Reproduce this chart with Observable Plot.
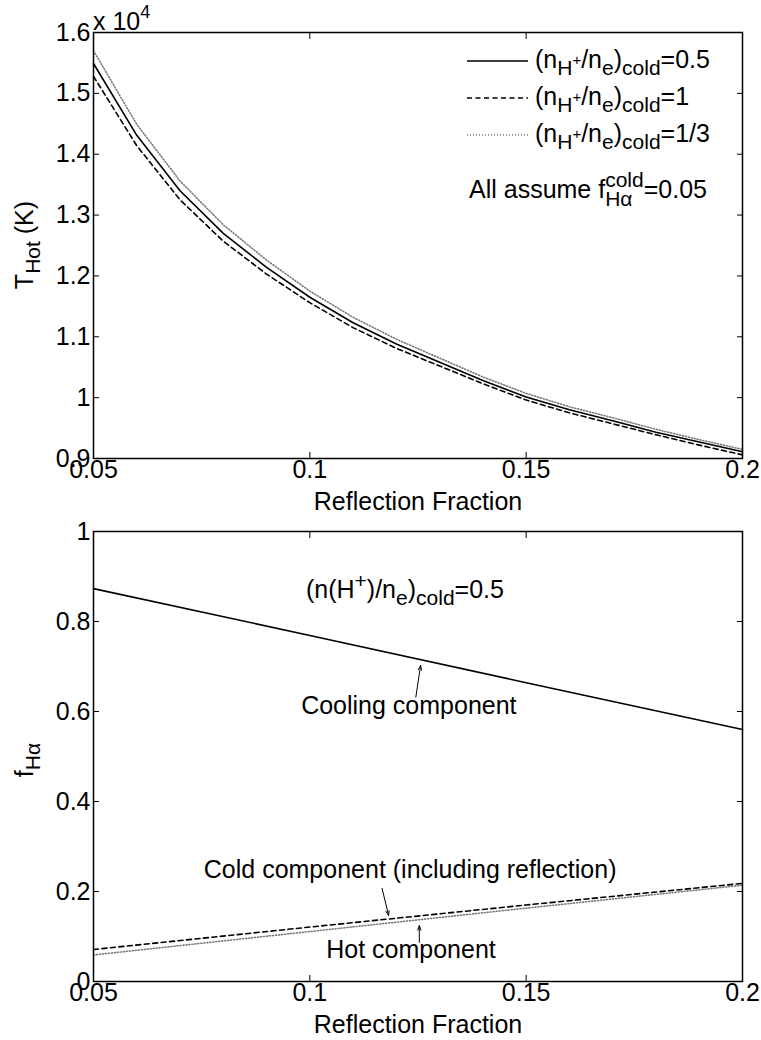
<!DOCTYPE html>
<html><head><meta charset="utf-8">
<script src="https://cdn.jsdelivr.net/npm/d3@7"></script>
<script src="https://cdn.jsdelivr.net/npm/@observablehq/plot@0.6"></script>
<style>
body{margin:0;background:#fff;}
#chart{width:761px;}
svg{display:block;}
</style>
</head><body><div id="chart"></div>
<script>
// ---------- data ----------
const reflection = [0.05,0.06,0.07,0.08,0.09,0.10,0.11,0.12,0.13,0.14,0.15,0.16,0.17,0.18,0.19,0.20];
// T_hot in units of 10^4 K
const tHalf  = [1.549,1.431,1.340,1.270,1.214,1.165,1.123,1.088,1.058,1.028,1.001,0.980,0.962,0.943,0.927,0.911];
const tOne   = [1.528,1.414,1.325,1.257,1.203,1.156,1.115,1.081,1.052,1.023,0.996,0.975,0.957,0.939,0.922,0.906];
const tThird = [1.570,1.449,1.356,1.284,1.226,1.175,1.132,1.096,1.065,1.034,1.007,0.985,0.967,0.948,0.931,0.915];
const legendLabels = ["=0.5","=1","=1/3"];

const reflectionB = [0.05,0.10,0.15,0.20];
const fCooling = [0.873,0.769,0.664,0.560];
const fCold    = [0.071,0.121,0.170,0.218];
const fHot     = [0.059,0.111,0.163,0.214];

const xTicks = [0.05,0.1,0.15,0.2];
const yTicksTop = [0.9,1,1.1,1.2,1.3,1.4,1.5,1.6];
const yTicksBottom = [0,0.2,0.4,0.6,0.8,1];

const FONT = "'Liberation Sans', Arial, Helvetica, sans-serif";
const FS = 25;

function axes(xt, yt) {
  return [
    Plot.frame({stroke: "black", strokeWidth: 1.5}),
    Plot.axisX({anchor: "bottom", ticks: xt, tickSize: -6, tickPadding: 8, tickFormat: String, fontSize: FS, label: null}),
    Plot.axisX({anchor: "top", ticks: xt, tickSize: -6, tickFormat: () => "", label: null}),
    Plot.axisY({anchor: "left", ticks: yt, tickSize: -6, tickPadding: 9, tickFormat: String, fontSize: FS, label: null}),
    Plot.axisY({anchor: "right", ticks: yt, tickSize: -6, tickFormat: () => "", label: null}),
    Plot.text(["Reflection Fraction"], {frameAnchor: "bottom", dy: 43, text: d => d, fontSize: FS, lineAnchor: "middle"})
  ];
}

const idx = reflection.map((_, i) => i);
const idxB = reflectionB.map((_, i) => i);

const topPlot = Plot.plot({
  width: 761, height: 514,
  marginTop: 32, marginBottom: 56, marginLeft: 93, marginRight: 19,
  style: {fontFamily: FONT, fontSize: FS + "px", color: "black", background: "white"},
  x: {domain: [0.05, 0.2]},
  y: {domain: [0.9, 1.6]},
  marks: [
    Plot.line(idx, {x: i => reflection[i], y: i => tThird[i], stroke: "#777", strokeWidth: 1.6, strokeDasharray: "1,2"}),
    Plot.line(idx, {x: i => reflection[i], y: i => tOne[i], stroke: "black", strokeWidth: 1.6, strokeDasharray: "5,3.5"}),
    Plot.line(idx, {x: i => reflection[i], y: i => tHalf[i], stroke: "black", strokeWidth: 1.6}),
    ...axes(xTicks, yTicksTop)
  ]
});

const botPlot = Plot.plot({
  width: 761, height: 526,
  marginTop: 17, marginBottom: 59, marginLeft: 93, marginRight: 19,
  style: {fontFamily: FONT, fontSize: FS + "px", color: "black", background: "white"},
  x: {domain: [0.05, 0.2]},
  y: {domain: [0, 1]},
  marks: [
    Plot.line(idxB, {x: i => reflectionB[i], y: i => fHot[i], stroke: "#777", strokeWidth: 1.6, strokeDasharray: "1,2"}),
    Plot.line(idxB, {x: i => reflectionB[i], y: i => fCold[i], stroke: "black", strokeWidth: 1.6, strokeDasharray: "5,3.5"}),
    Plot.line(idxB, {x: i => reflectionB[i], y: i => fCooling[i], stroke: "black", strokeWidth: 1.6}),
    // annotation arrows (tail -> tip, in data coordinates)
    Plot.arrow([
      {x1: 0.1245, y1: 0.632, x2: 0.1256, y2: 0.702},
      {x1: 0.1167, y1: 0.207, x2: 0.1182, y2: 0.147},
      {x1: 0.1253, y1: 0.087, x2: 0.1253, y2: 0.124}
    ], {x1: "x1", y1: "y1", x2: "x2", y2: "y2", stroke: "black", strokeWidth: 1, headLength: 7, headAngle: 40}),
    ...axes(xTicks, yTicksBottom)
  ]
});

const chart = document.getElementById("chart");
chart.append(topPlot, botPlot);

// ---------- rich text helper (sub/superscripts) ----------
function rich(svg, x, y, parts, {anchor = "start", rotate = 0} = {}) {
  const outer = d3.select(svg).append("g").attr("transform", `translate(${x},${y}) rotate(${rotate})`)
    .attr("font-family", FONT).attr("fill", "black").attr("text-anchor", "start");
  const g = outer.append("g");
  let cx = 0, lastStart = 0;
  for (const p of parts) {
    const start = p.stack ? lastStart : cx;
    const t = g.append("text").attr("x", start).attr("y", p.shift || 0)
      .attr("text-anchor", "start").attr("font-size", p.size || FS).text(p.t);
    const w = t.node().getComputedTextLength();
    lastStart = start;
    cx = Math.max(cx, start + w);
  }
  if (anchor === "middle") g.attr("transform", `translate(${-cx / 2},0)`);
  if (anchor === "end") g.attr("transform", `translate(${-cx},0)`);
  return outer;
}

const SUB = 21, SUP2 = 15;

// ---- top panel extras ----
rich(topPlot, 93, 30, [{t: "x 10"}, {t: "4", size: 18, shift: -12}]);
rich(topPlot, 33, 245, [{t: "T"}, {t: "Hot", size: SUB, shift: 7}, {t: " (K)"}], {anchor: "middle", rotate: -90});

const legendDash = [null, "5,3.5", "1,2"];
const legendColor = ["black", "black", "#777"];
legendLabels.forEach((lab, i) => {
  const ly = 61 + i * 37;
  d3.select(topPlot).append("line").attr("x1", 467).attr("x2", 528).attr("y1", ly).attr("y2", ly)
    .attr("stroke", legendColor[i]).attr("stroke-width", 1.6).attr("stroke-dasharray", legendDash[i]);
  rich(topPlot, 535, ly + 7, [
    {t: "(n"}, {t: "H", size: SUB, shift: 7}, {t: "+", size: SUP2, shift: -3},
    {t: "/n"}, {t: "e", size: SUB, shift: 7}, {t: ")"}, {t: "cold", size: SUB, shift: 7}, {t: lab}
  ]);
});
rich(topPlot, 469, 198, [
  {t: "All assume f"}, {t: "cold", size: SUB, shift: -11}, {t: "H\u03b1", size: SUB, shift: 8, stack: true}, {t: "=0.05"}
]);

// ---- bottom panel extras ----
const bx = botPlot.scale("x"), by = botPlot.scale("y");
rich(botPlot, 33, (by.apply(0) + by.apply(1)) / 2 + 4, [{t: "f"}, {t: "H\u03b1", size: SUB, shift: 7}], {anchor: "middle", rotate: -90});
rich(botPlot, bx.apply(0.1221), by.apply(0.851), [
  {t: "(n(H"}, {t: "+", size: SUB, shift: -10}, {t: ")/n"}, {t: "e", size: SUB, shift: 7}, {t: ")"}, {t: "cold", size: SUB, shift: 7}, {t: "=0.5"}
], {anchor: "middle"});
rich(botPlot, bx.apply(0.123), by.apply(0.593), [{t: "Cooling component"}], {anchor: "middle"});
rich(botPlot, bx.apply(0.1233), by.apply(0.229), [{t: "Cold component (including reflection)"}], {anchor: "middle"});
rich(botPlot, bx.apply(0.1235), by.apply(0.051), [{t: "Hot component"}], {anchor: "middle"});
</script>
</body></html>
